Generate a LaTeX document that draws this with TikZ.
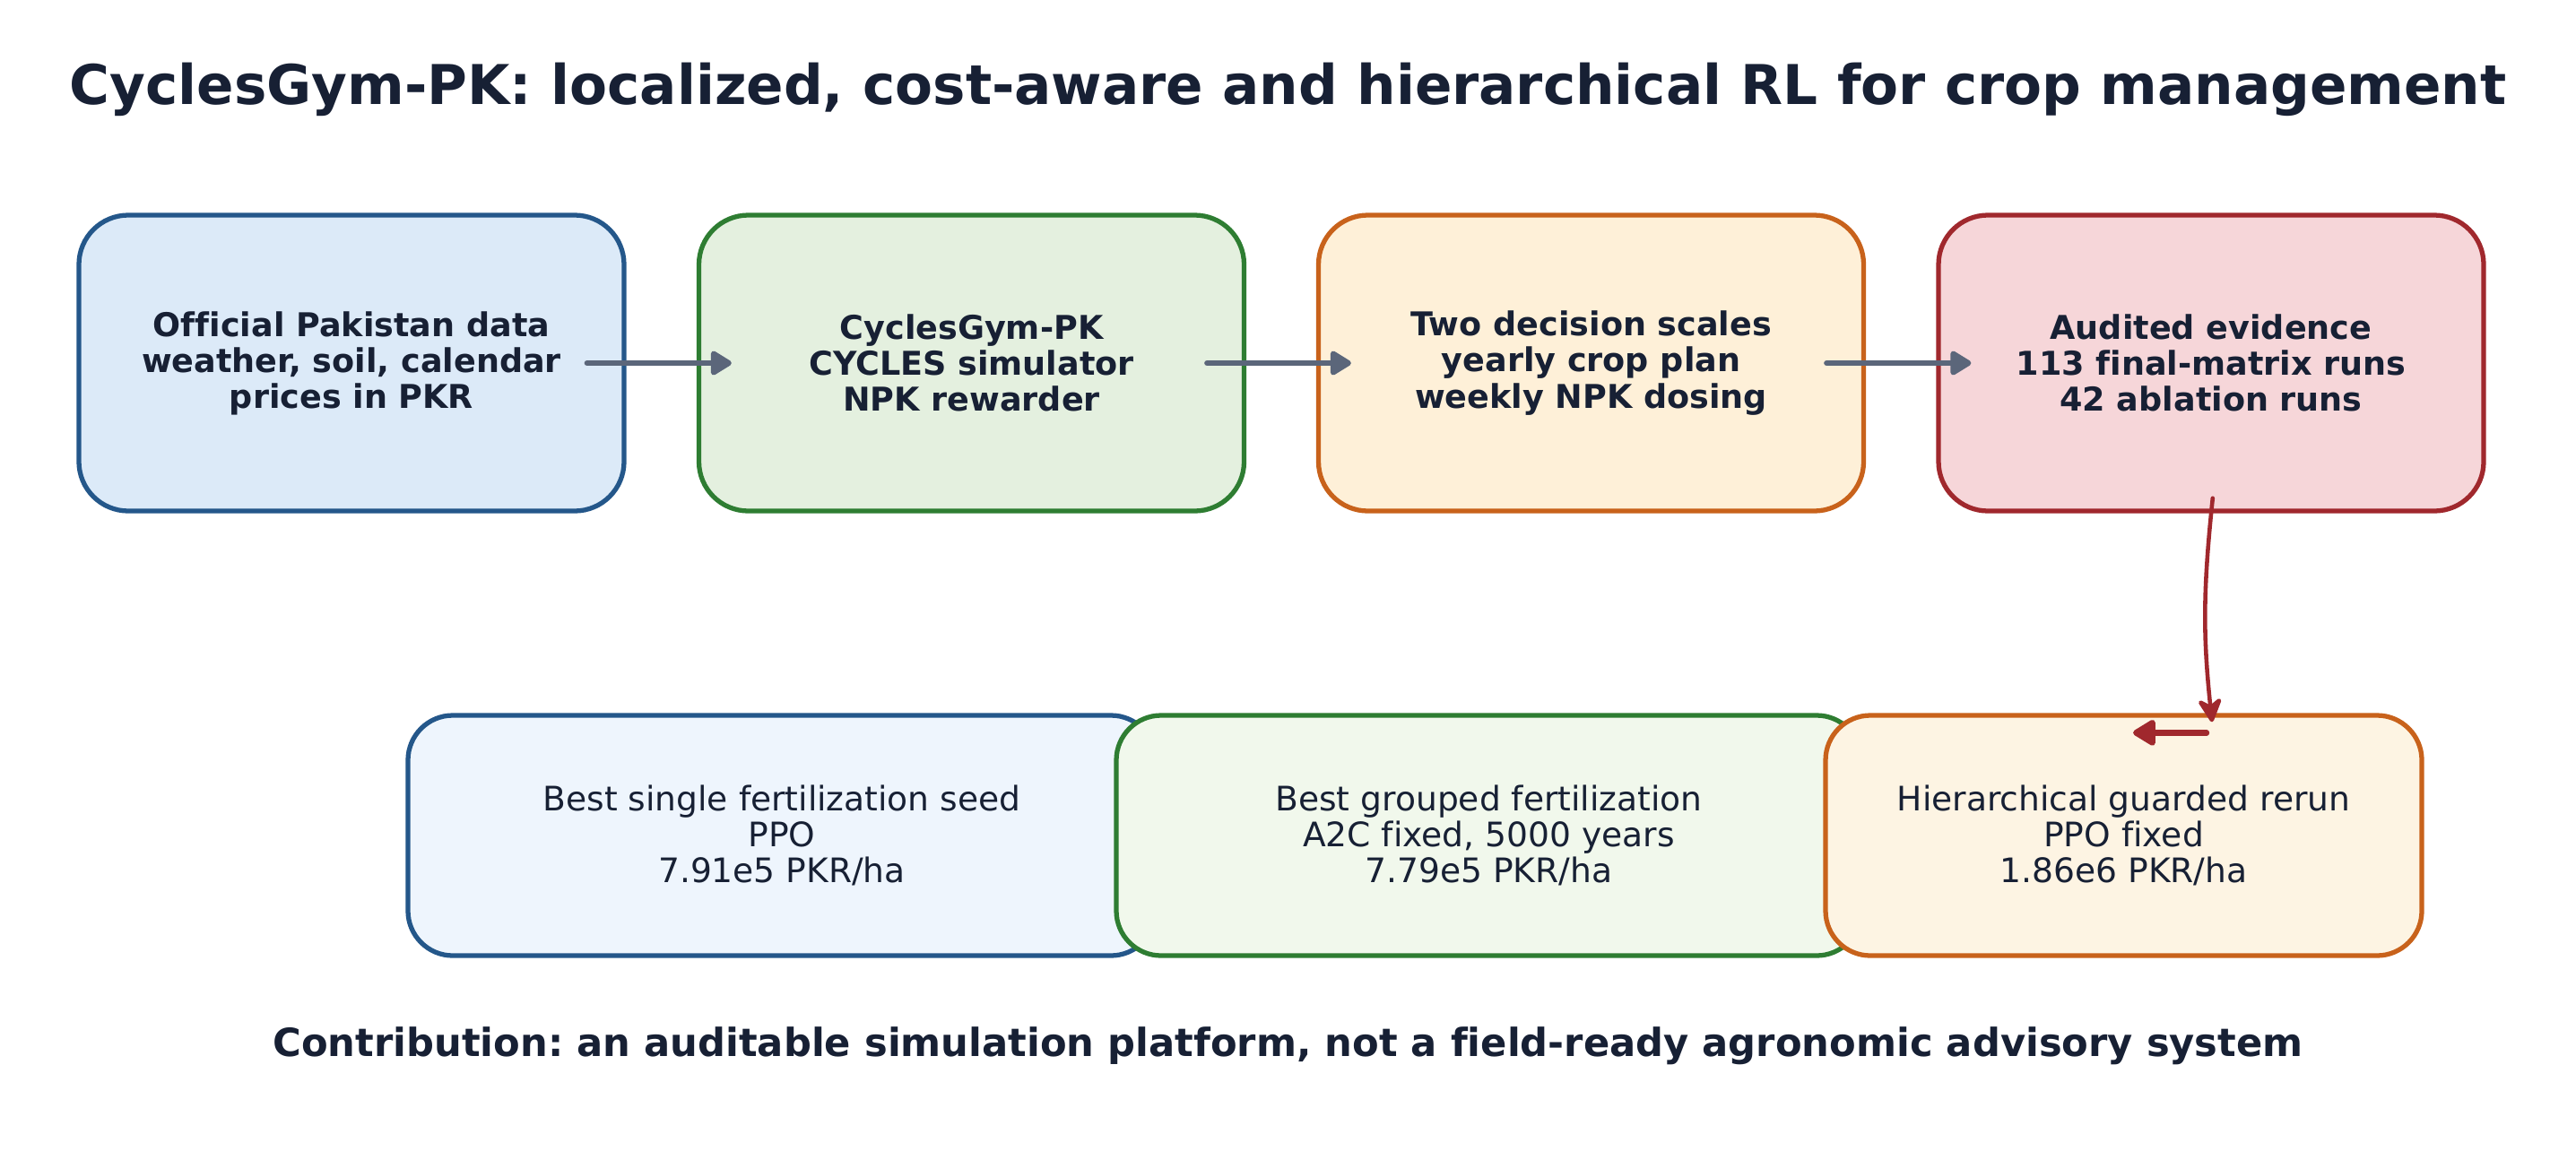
\documentclass[tikz,border=0pt]{standalone}
\usepackage{fontspec}
\setmainfont[Ligatures=NoCommon]{DejaVu Sans}
\frenchspacing
\usetikzlibrary{arrows.meta, calc}

\definecolor{ink}{HTML}{172034}
\definecolor{flowgray}{HTML}{5B667A}
\definecolor{blueline}{HTML}{24578A}
\definecolor{bluefill}{HTML}{DCEAF8}
\definecolor{bluepale}{HTML}{EEF5FD}
\definecolor{greenline}{HTML}{2E7D32}
\definecolor{greenfill}{HTML}{E4F0DF}
\definecolor{greenpale}{HTML}{F1F8EC}
\definecolor{orangeline}{HTML}{C8621B}
\definecolor{orangefill}{HTML}{FEF0D8}
\definecolor{orangepale}{HTML}{FDF4E3}
\definecolor{redline}{HTML}{A0282D}
\definecolor{redfill}{HTML}{F6D6D9}

\begin{document}
\begin{tikzpicture}[line cap=round, line join=round,
	stage/.style={draw, rounded corners=0.55cm, line width=1.5pt,
		minimum width=6.08cm, minimum height=3.3cm, align=center,
		font=\bfseries\fontsize{10.4}{11.4}\selectfont, text=ink},
	result/.style={draw, rounded corners=0.5cm, line width=1.5pt,
		minimum height=2.68cm, align=center,
		font=\fontsize{10.7}{11.4}\selectfont, text=ink},
	flow/.style={-{Triangle[length=0.26cm, width=0.3cm, round]},
		line width=1.7pt, draw=flowgray},
	evid/.style={-{Stealth[length=0.32cm, width=0.32cm, round]},
		line width=1.3pt, draw=redline}]
	\useasboundingbox (0,0) rectangle (28.73,-12.93);

	% Title
	\node[font=\bfseries\fontsize{17.4}{20}\selectfont, text=ink] (title)
		at (14.365,-1.0) {CyclesGym-PK: localized, cost-aware and hierarchical RL for crop management};

	% Pipeline row
	\node[stage, draw=blueline, fill=bluefill] (data) at (3.92,-4.05)
		{Official Pakistan data\\weather, soil, calendar\\prices in PKR};
	\node[stage, draw=greenline, fill=greenfill] (gym) at (10.835,-4.05)
		{CyclesGym-PK\\CYCLES simulator\\NPK rewarder};
	\node[stage, draw=orangeline, fill=orangefill] (scales) at (17.745,-4.05)
		{Two decision scales\\yearly crop plan\\weekly NPK dosing};
	\node[stage, draw=redline, fill=redfill] (audit) at (24.66,-4.05)
		{Audited evidence\\113 final-matrix runs\\42 ablation runs};

	\foreach \a/\b in {data/gym, gym/scales, scales/audit} {
		\draw[flow, shorten <=-0.44cm, shorten >=-0.39cm] (\a) -- (\b);
	}

	% Results row
	\node[result, draw=blueline, fill=bluepale, minimum width=8.34cm] (single) at (8.72,-9.32)
		{Best single fertilization seed\\PPO\\7.91e5 PKR/ha};
	\node[result, draw=greenline, fill=greenpale, minimum width=8.31cm] (grouped) at (16.605,-9.32)
		{Best grouped fertilization\\A2C fixed, 5000 years\\7.79e5 PKR/ha};
	\node[result, draw=orangeline, fill=orangepale, minimum width=6.65cm] (hier) at (23.685,-9.32)
		{Hierarchical guarded rerun\\PPO fixed\\1.86e6 PKR/ha};

	% Evidence down to the results
	\draw[evid, shorten <=-0.17cm, shorten >=-0.1cm] (audit.south) to[bend right=6] (audit.south |- hier.north);
	\coordinate (kick) at ($(audit.south |- hier.north)+(-0.05,-0.22)$);
	\draw[evid, line width=1.8pt, -{Triangle[length=0.28cm, width=0.32cm, round]}] (kick) -- ++(-0.82,0);

	% Footer
	\node[font=\bfseries\fontsize{12.3}{14}\selectfont, text=ink] (note) at (14.365,-11.67)
		{Contribution: an auditable simulation platform, not a field-ready agronomic advisory system};
\end{tikzpicture}
\end{document}
